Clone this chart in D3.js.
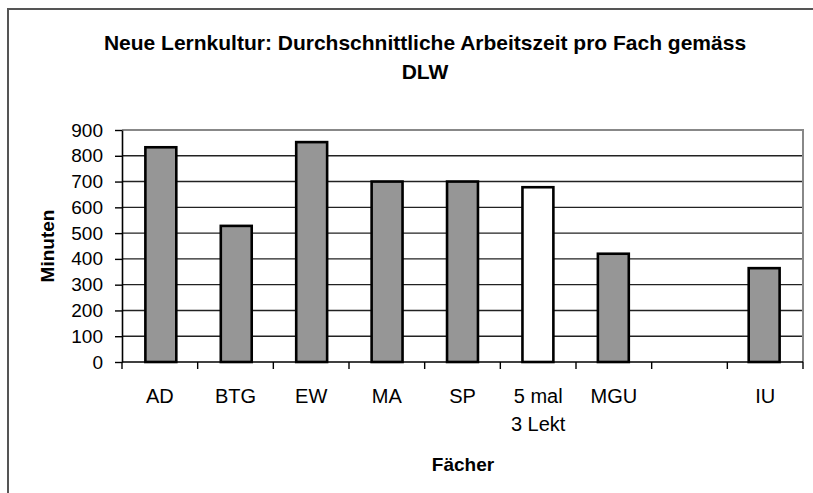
<!DOCTYPE html>
<html>
<head>
<meta charset="utf-8">
<script src="https://cdn.jsdelivr.net/npm/d3@7"></script>
<style>
  body { margin: 0; background: #fff; }
  svg { display: block; font-family: "Liberation Sans", Arial, sans-serif; }
</style>
</head>
<body>
<div id="chart"></div>
<script>
// data
let categories = ["AD", "BTG", "EW", "MA", "SP", "5 mal|3 Lekt", "MGU", "", "IU"]
let minutes = [833, 528, 853, 700, 700, 678, 420, null, 364]
let barFill = ["#969696", "#969696", "#969696", "#969696", "#969696", "#ffffff", "#969696", "#969696", "#969696"]
let yTicks = [0, 100, 200, 300, 400, 500, 600, 700, 800, 900]

let margin = {left: 122, right: 10, top: 130, bottom: 131}
let width = 813 - margin.left - margin.right
let height = 493 - margin.top - margin.bottom

let svg = d3.select("#chart").append("svg")
  .attr("width", 813)
  .attr("height", 493)

// outer chart frame (runs off the right and bottom edges)
svg.append("rect")
  .attr("x", 8).attr("y", 9)
  .attr("width", 830).attr("height", 520)
  .attr("fill", "none")
  .attr("stroke", "#555")
  .attr("stroke-width", 2)

svg.append("text")
  .attr("x", 425).attr("y", 50)
  .attr("text-anchor", "middle")
  .attr("font-size", "21px")
  .attr("font-weight", "bold")
  .text("Neue Lernkultur: Durchschnittliche Arbeitszeit pro Fach gemäss")

svg.append("text")
  .attr("x", 425).attr("y", 79)
  .attr("text-anchor", "middle")
  .attr("font-size", "21px")
  .attr("font-weight", "bold")
  .text("DLW")

let g = svg.append("g")
  .attr("transform", "translate(" + margin.left + "," + margin.top + ")")

let x = d3.scaleBand()
  .domain(d3.range(categories.length))
  .range([0, width])
  .paddingInner(0.59)
  .paddingOuter(0.31)

let y = d3.scaleLinear()
  .domain([0, 900])
  .range([height, 0])

// gridlines
g.selectAll(".grid")
  .data(yTicks.slice(1, -1))
  .enter().append("line")
  .attr("x1", 0).attr("x2", width)
  .attr("y1", d => y(d)).attr("y2", d => y(d))
  .attr("stroke", "#222")
  .attr("stroke-width", 1.4)

// plot area border top/right
g.append("path")
  .attr("d", "M0," + y(900) + "H" + width + "V" + height)
  .attr("fill", "none")
  .attr("stroke", "#888")
  .attr("stroke-width", 2)

// bars (the empty slot has no value)
let barData = minutes.map((v, i) => ({i: i, v: v, fill: barFill[i]})).filter(d => d.v != null)

g.selectAll(".bar")
  .data(barData)
  .enter().append("rect")
  .attr("class", "bar")
  .attr("x", d => x(d.i))
  .attr("y", d => y(d.v))
  .attr("width", x.bandwidth())
  .attr("height", d => height - y(d.v))
  .attr("fill", d => d.fill)
  .attr("stroke", "#000")
  .attr("stroke-width", 2.6)

// y axis
let yAxis = g.append("g")
  .call(d3.axisLeft(y).tickValues(yTicks).tickSize(7).tickSizeOuter(0))
yAxis.select(".domain").attr("stroke", "#000").attr("stroke-width", 1.6)
yAxis.selectAll(".tick line").attr("stroke", "#000").attr("stroke-width", 1.4)
yAxis.selectAll(".tick text")
  .attr("x", -19)
  .attr("font-size", "19px")
  .attr("font-family", "Liberation Sans, Arial, sans-serif")
  .attr("fill", "#000")

// x axis: ticks between categories
let bounds = d3.range(categories.length + 1).map(i => i * width / categories.length)
let xAxisGroup = g.append("g").attr("transform", "translate(0," + height + ")")
xAxisGroup.append("line")
  .attr("x1", 0).attr("x2", width)
  .attr("stroke", "#000").attr("stroke-width", 1.6)
xAxisGroup.selectAll(".xtick")
  .data(bounds)
  .enter().append("line")
  .attr("x1", d => d).attr("x2", d => d)
  .attr("y1", 0).attr("y2", 7)
  .attr("stroke", "#000").attr("stroke-width", 1.4)

let labels = xAxisGroup.selectAll(".xlabel")
  .data(categories)
  .enter().append("text")
  .attr("text-anchor", "middle")
  .attr("font-size", "20px")
  .attr("fill", "#000")
  .attr("transform", (d, i) => "translate(" + (i + 0.5) * width / categories.length + ",41)")

labels.each(function(d) {
  let lines = d.split("|")
  d3.select(this).selectAll("tspan")
    .data(lines)
    .enter().append("tspan")
    .attr("x", 0)
    .attr("dy", (l, j) => j === 0 ? 0 : 28)
    .text(l => l)
})

svg.append("text")
  .attr("x", 463).attr("y", 471)
  .attr("text-anchor", "middle")
  .attr("font-size", "19px")
  .attr("font-weight", "bold")
  .text("Fächer")

svg.append("text")
  .attr("transform", "translate(54,246) rotate(-90)")
  .attr("text-anchor", "middle")
  .attr("font-size", "19px")
  .attr("font-weight", "bold")
  .text("Minuten")
</script>
</body>
</html>
